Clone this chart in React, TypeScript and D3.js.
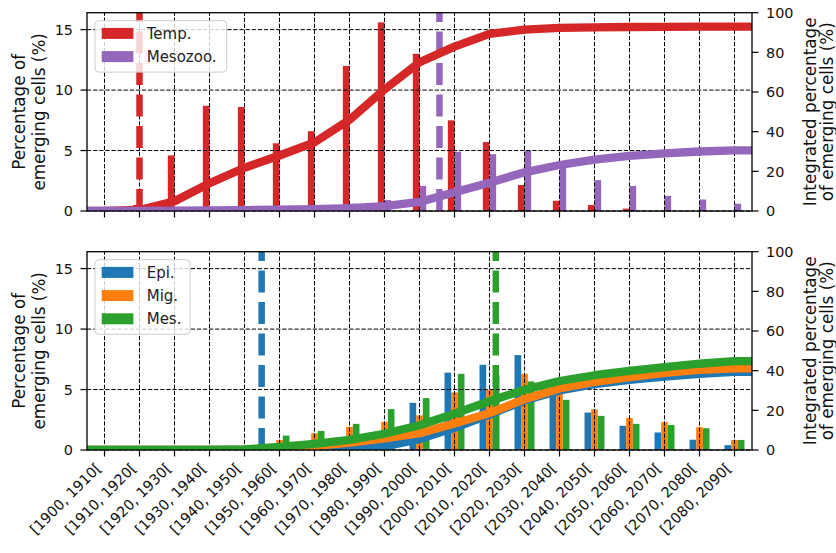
import React from "react";
import * as d3 from "d3";

// decades on the x axis
const categories = [
  "[1900, 1910[", "[1910, 1920[", "[1920, 1930[", "[1930, 1940[", "[1940, 1950[",
  "[1950, 1960[", "[1960, 1970[", "[1970, 1980[", "[1980, 1990[", "[1990, 2000[",
  "[2000, 2010[", "[2010, 2020[", "[2020, 2030[", "[2030, 2040[", "[2040, 2050[",
  "[2050, 2060[", "[2060, 2070[", "[2070, 2080[", "[2080, 2090[",
];

// top panel: percentage of emerging cells per decade
const tempBars = [0, 0.5, 4.6, 8.7, 8.6, 5.6, 6.6, 12.0, 15.6, 13.0, 7.5, 5.7, 2.15, 0.85, 0.5, 0.2, 0, 0, 0];
const mesozooBars = [0.05, 0.1, 0.1, 0.1, 0.15, 0.2, 0.3, 0.6, 0.9, 2.07, 4.9, 4.7, 5.0, 3.6, 2.55, 2.07, 1.25, 0.95, 0.6];
// top panel: integrated percentage
const tempCum = [0, 0.5, 4.9, 14.0, 21.8, 28.0, 34.6, 46.0, 61.3, 75.0, 82.9, 89.3, 91.5, 92.3, 92.6, 92.8, 92.9, 93.0, 93.0];
const mesozooCum = [0, 0.1, 0.2, 0.3, 0.45, 0.65, 0.95, 1.5, 2.4, 4.6, 9.5, 14.3, 19.5, 23.2, 25.9, 27.8, 29.1, 30.0, 30.6];

// bottom panel
const epiBars = [0, 0, 0, 0, 0, 0.05, 0.2, 0.5, 1.1, 3.9, 6.4, 7.05, 7.85, 4.7, 3.1, 2.0, 1.45, 0.85, 0.4];
const migBars = [0, 0, 0, 0, 0.1, 0.83, 1.38, 1.9, 2.33, 2.86, 4.76, 4.98, 6.3, 4.9, 3.37, 2.64, 2.31, 1.88, 0.83];
const mesBars = [0, 0, 0, 0, 0.2, 1.19, 1.58, 2.16, 3.38, 4.29, 6.3, 6.2, 5.67, 4.15, 2.82, 2.16, 2.07, 1.8, 0.83];
const epiCum = [0, 0, 0, 0, 0, 0.05, 0.25, 0.75, 1.8, 5.5, 11.2, 17.8, 25.0, 30.0, 33.2, 35.4, 37.0, 38.4, 39.4];
const migCum = [0, 0, 0, 0, 0.1, 0.7, 2.0, 3.7, 5.8, 8.5, 13.4, 18.6, 25.6, 31.0, 34.3, 36.8, 38.9, 40.4, 41.2];
const mesCum = [0, 0, 0, 0, 0.3, 1.6, 3.1, 5.1, 8.2, 12.5, 18.3, 24.6, 30.4, 34.8, 37.7, 39.9, 41.8, 43.5, 44.8];

// dashed markers, in category units
const tempMark = 1.0;
const mesozooMark = 9.57;
const epiMark = 4.49;
const mesMark = 11.18;

const leftTicks = [0, 5, 10, 15];
const rightTicks = [0, 20, 40, 60, 80, 100];

const RED = "#d62728", PURPLE = "#9467bd", BLUE = "#1f77b4", ORANGE = "#ff7f0e", GREEN = "#2ca02c";
const FONT = "DejaVu Sans";

const X_LEFT = 87;
const X_RIGHT = 752;
const BW = 0.19;

function Panel(props) {
  const { top, bottom, bars, cums, marks, legend, legendWidth, showLabels, id } = props;

  const x = d3.scaleLinear().domain([-0.5, categories.length - 0.5]).range([X_LEFT, X_RIGHT]);
  const yL = d3.scaleLinear().domain([0, 16.4]).range([bottom, top]);
  const yR = d3.scaleLinear().domain([0, 100]).range([bottom, top]);
  const line = d3.line().x(d => x(d[0])).y(d => yR(d[1]));
  const n = categories.length;
  const midY = (top + bottom) / 2;

  const legX = 95, legY = top + 8;
  const legH = 12.7 + (legend.length - 1) * 23.2 + 15.5;

  return (
    <g>
      <defs>
        <clipPath id={id}>
          <rect x={X_LEFT} y={top} width={X_RIGHT - X_LEFT} height={bottom - top} />
        </clipPath>
      </defs>
      <rect x={X_LEFT} y={top} width={X_RIGHT - X_LEFT} height={bottom - top} fill="white" />

      {/* bars */}
      <g clipPath={`url(#${id})`}>
        {bars.map(s => s.values.map((v, i) => (
          <rect key={s.name + i}
            x={x(i + s.offset)} width={x(i + s.offset + BW) - x(i + s.offset)}
            y={yL(v)} height={yL(0) - yL(v)} fill={s.color} />
        )))}
      </g>

      {/* grid */}
      <g stroke="black" strokeWidth={1} strokeDasharray="4.3,1.8" fill="none">
        {categories.map((c, i) => (
          <line key={c} x1={x(i)} x2={x(i)} y1={bottom} y2={top} />
        ))}
        {leftTicks.map(t => (
          <line key={t} x1={X_LEFT} x2={X_RIGHT} y1={yL(t)} y2={yL(t)} />
        ))}
      </g>

      {/* dashed markers */}
      <g clipPath={`url(#${id})`}>
        {marks.map(m => (
          <line key={m.color} x1={x(m.x)} x2={x(m.x)} y1={bottom} y2={top}
            stroke={m.color} strokeWidth={6.5} strokeDasharray="22,9.5" />
        ))}
      </g>

      {/* legend */}
      <g fontFamily={FONT} fontSize={15}>
        <rect x={legX} y={legY} width={legendWidth} height={legH} rx={4}
          fill="white" fillOpacity={0.8} stroke="#cccccc" strokeWidth={1} />
        {legend.map((l, k) => {
          const cy = legY + 12.7 + k * 23.2;
          return (
            <g key={l.name}>
              <rect x={legX + 6.7} y={cy - 5.5} width={31.7} height={11} fill={l.color} />
              <text x={legX + 51.7} y={cy + 5.4} fill="#222">{l.name}</text>
            </g>
          );
        })}
      </g>

      {/* integrated lines on the twin axis */}
      <g clipPath={`url(#${id})`} fill="none">
        {cums.map(s => {
          const pts = [[-0.5, s.values[0]], ...s.values.map((v, i) => [i, v]), [n - 0.5, s.values[n - 1]]];
          return <path key={s.color} d={line(pts)} stroke={s.color} strokeWidth={8.3} strokeLinejoin="round" />;
        })}
      </g>

      {/* spines */}
      <rect x={X_LEFT} y={top} width={X_RIGHT - X_LEFT} height={bottom - top}
        fill="none" stroke="black" strokeWidth={1.3} />

      {/* ticks */}
      <g stroke="black" strokeWidth={1.2}>
        {leftTicks.map(t => <line key={"l" + t} x1={X_LEFT - 6.5} x2={X_LEFT} y1={yL(t)} y2={yL(t)} />)}
        {rightTicks.map(t => <line key={"r" + t} x1={X_RIGHT} x2={X_RIGHT + 6.5} y1={yR(t)} y2={yR(t)} />)}
        {categories.map((c, i) => <line key={c} x1={x(i)} x2={x(i)} y1={bottom} y2={bottom + 6.5} />)}
      </g>
      <g fontFamily={FONT} fontSize={14.4} fill="#111">
        {leftTicks.map(t => (
          <text key={"l" + t} x={X_LEFT - 14} y={yL(t)} dy="0.36em" textAnchor="end">{t}</text>
        ))}
        {rightTicks.map(t => (
          <text key={"r" + t} x={X_RIGHT + 14} y={yR(t)} dy="0.36em" textAnchor="start">{t}</text>
        ))}
        {showLabels && categories.map((c, i) => (
          <text key={c} textAnchor="end"
            transform={`translate(${x(i) - 2.4},${bottom + 19}) rotate(-45)`}>{c}</text>
        ))}
      </g>

      {/* axis labels */}
      <g fontFamily={FONT} fontSize={16.8} fill="#111" textAnchor="middle">
        <text transform={`translate(25,${midY}) rotate(-90)`}>Percentage of</text>
        <text transform={`translate(45,${midY}) rotate(-90)`}>emerging cells (%)</text>
        <text transform={`translate(816,${midY}) rotate(-90)`}>Integrated percentage</text>
        <text transform={`translate(833,${midY}) rotate(-90)`}>of emerging cells (%)</text>
      </g>
    </g>
  );
}

export default function App() {
  return (
    <svg width={836} height={553} style={{ display: "block", position: "absolute", left: 0, top: 0 }}>
      <rect width={836} height={553} fill="white" />
      <Panel id="clipTop" top={12.7} bottom={211} showLabels={false} legendWidth={131.7}
        bars={[
          { name: "Temp.", color: RED, values: tempBars, offset: -BW },
          { name: "Mesozoo.", color: PURPLE, values: mesozooBars, offset: 0 },
        ]}
        cums={[
          { color: RED, values: tempCum },
          { color: PURPLE, values: mesozooCum },
        ]}
        marks={[
          { color: RED, x: tempMark },
          { color: PURPLE, x: mesozooMark },
        ]}
        legend={[
          { name: "Temp.", color: RED },
          { name: "Mesozoo.", color: PURPLE },
        ]}
      />
      <Panel id="clipBottom" top={251.7} bottom={450} showLabels={true} legendWidth={95}
        bars={[
          { name: "Epi.", color: BLUE, values: epiBars, offset: -1.5 * BW },
          { name: "Mig.", color: ORANGE, values: migBars, offset: -0.5 * BW },
          { name: "Mes.", color: GREEN, values: mesBars, offset: 0.5 * BW },
        ]}
        cums={[
          { color: BLUE, values: epiCum },
          { color: ORANGE, values: migCum },
          { color: GREEN, values: mesCum },
        ]}
        marks={[
          { color: BLUE, x: epiMark },
          { color: GREEN, x: mesMark },
        ]}
        legend={[
          { name: "Epi.", color: BLUE },
          { name: "Mig.", color: ORANGE },
          { name: "Mes.", color: GREEN },
        ]}
      />
    </svg>
  );
}
